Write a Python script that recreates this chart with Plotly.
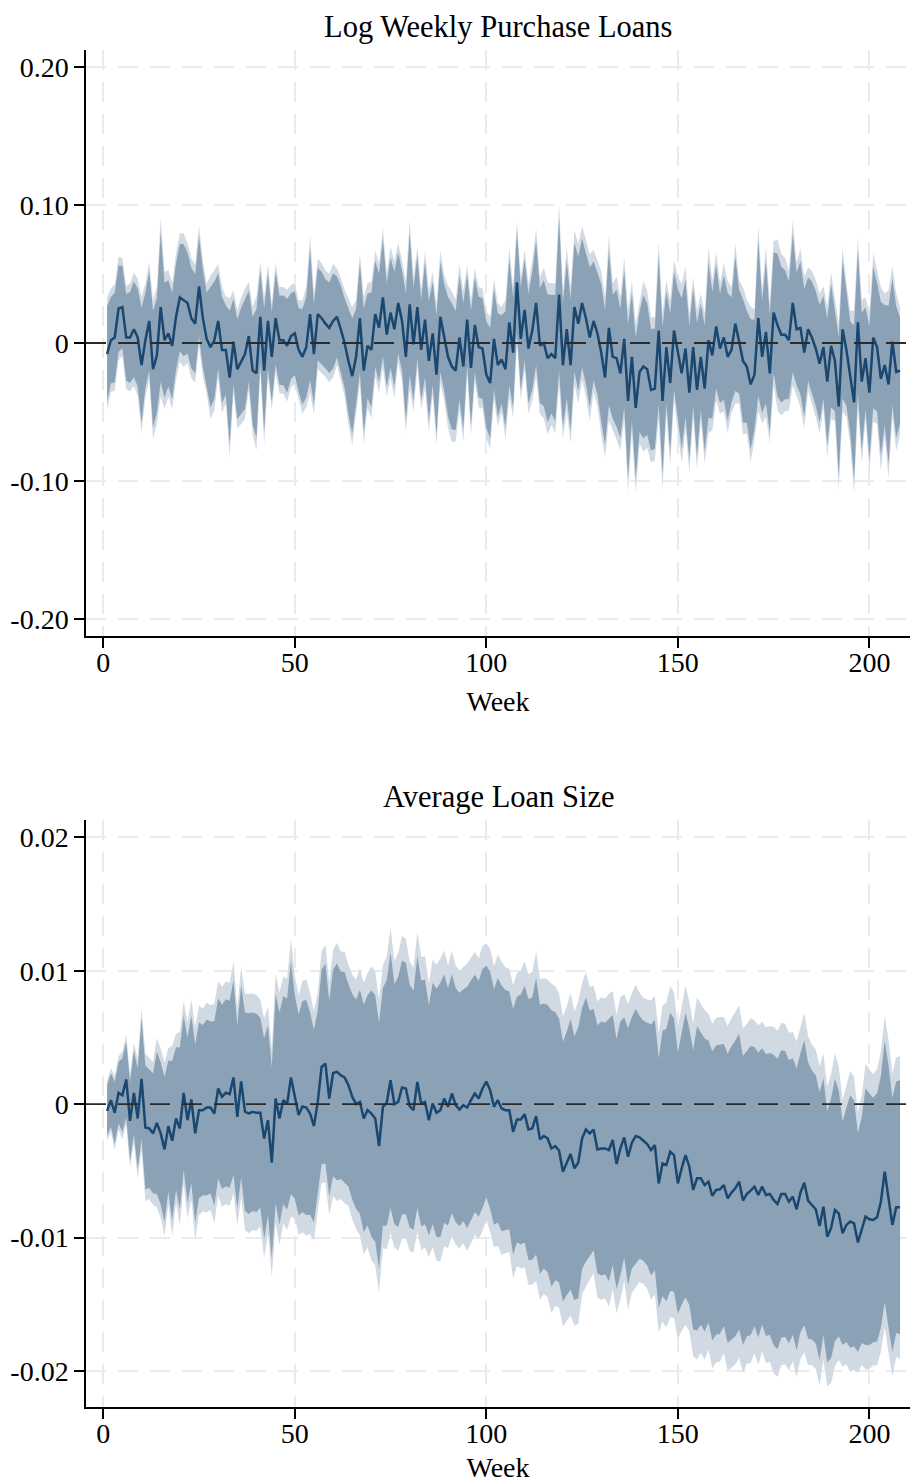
import numpy as np
import plotly.graph_objects as go

# ---------------- data ----------------
weeks = list(range(1, 209))

# Panel 1: Log Weekly Purchase Loans -- point estimates and standard errors
b_top = [
    -0.008, 0.002, 0.004, 0.025, 0.026, 0.004, 0.004, 0.010, 0.004, -0.016,
    0.002, 0.016, -0.019, -0.009, 0.026, 0.002, 0.007, -0.002, 0.019, 0.033,
    0.031, 0.029, 0.018, 0.014, 0.041, 0.018, 0.003, -0.003, 0.002, 0.016,
    -0.005, -0.005, -0.025, 0.001, -0.019, -0.013, -0.008, 0.005, -0.020, -0.022,
    0.019, -0.020, 0.016, -0.010, 0.018, 0.002, 0.002, -0.002, 0.005, 0.007,
    -0.005, -0.010, -0.003, 0.021, -0.008, 0.021, 0.018, 0.014, 0.011, 0.016,
    0.019, 0.010, 0.000, -0.013, -0.024, -0.010, 0.018, -0.020, -0.002, -0.005,
    0.021, 0.011, 0.033, 0.006, 0.022, 0.010, 0.029, 0.016, -0.010, 0.028,
    -0.001, 0.026, -0.005, 0.017, -0.013, 0.007, -0.023, 0.019, 0.004, -0.010,
    -0.017, -0.020, 0.004, -0.017, 0.017, -0.018, 0.013, -0.003, -0.004, -0.023,
    -0.029, 0.003, -0.016, -0.012, -0.019, 0.015, -0.007, 0.044, 0.003, 0.024,
    -0.004, 0.009, 0.029, -0.002, 0.000, -0.011, -0.008, -0.011, 0.035, -0.016,
    0.010, -0.016, 0.026, 0.014, 0.029, 0.018, 0.004, 0.016, 0.007, -0.007,
    -0.025, 0.011, -0.010, -0.011, -0.022, 0.003, -0.042, -0.010, -0.047, -0.021,
    -0.017, -0.019, -0.034, -0.033, 0.009, -0.042, -0.003, -0.029, 0.009, -0.008,
    -0.022, -0.004, -0.036, -0.003, -0.034, -0.010, -0.033, 0.002, -0.009, 0.012,
    -0.004, 0.004, -0.010, -0.005, 0.014, 0.001, -0.013, -0.017, -0.030, -0.023,
    0.018, -0.010, 0.008, -0.022, 0.022, 0.013, 0.006, 0.006, 0.002, 0.029,
    0.010, 0.011, -0.007, 0.010, 0.004, -0.004, -0.015, -0.003, -0.028, -0.002,
    -0.013, -0.046, 0.010, -0.005, -0.025, -0.043, 0.015, -0.028, -0.011, -0.036,
    0.004, -0.003, -0.026, -0.016, -0.030, 0.001, -0.021, -0.020,
]
se_top = [
    0.0210, 0.0191, 0.0197, 0.0191, 0.0181, 0.0191, 0.0200, 0.0210, 0.0216, 0.0253,
    0.0210, 0.0218, 0.0257, 0.0253, 0.0330, 0.0253, 0.0234, 0.0234, 0.0234, 0.0237,
    0.0247, 0.0222, 0.0222, 0.0218, 0.0222, 0.0216, 0.0204, 0.0265, 0.0259, 0.0210,
    0.0234, 0.0197, 0.0294, 0.0188, 0.0220, 0.0234, 0.0241, 0.0201, 0.0237, 0.0284,
    0.0204, 0.0272, 0.0210, 0.0197, 0.0204, 0.0197, 0.0197, 0.0207, 0.0189, 0.0185,
    0.0183, 0.0210, 0.0222, 0.0290, 0.0222, 0.0204, 0.0204, 0.0197, 0.0200, 0.0210,
    0.0179, 0.0191, 0.0197, 0.0234, 0.0255, 0.0210, 0.0241, 0.0272, 0.0231, 0.0253,
    0.0234, 0.0238, 0.0259, 0.0228, 0.0243, 0.0253, 0.0222, 0.0222, 0.0281, 0.0311,
    0.0249, 0.0225, 0.0222, 0.0255, 0.0263, 0.0226, 0.0262, 0.0244, 0.0234, 0.0263,
    0.0278, 0.0262, 0.0272, 0.0278, 0.0201, 0.0251, 0.0210, 0.0222, 0.0222, 0.0234,
    0.0244, 0.0222, 0.0228, 0.0195, 0.0257, 0.0278, 0.0241, 0.0226, 0.0228, 0.0222,
    0.0241, 0.0259, 0.0275, 0.0253, 0.0278, 0.0281, 0.0262, 0.0278, 0.0337, 0.0272,
    0.0302, 0.0290, 0.0284, 0.0296, 0.0284, 0.0290, 0.0309, 0.0262, 0.0269, 0.0302,
    0.0296, 0.0342, 0.0272, 0.0302, 0.0284, 0.0302, 0.0337, 0.0281, 0.0311, 0.0265,
    0.0315, 0.0290, 0.0268, 0.0265, 0.0327, 0.0325, 0.0247, 0.0306, 0.0259, 0.0286,
    0.0331, 0.0302, 0.0294, 0.0259, 0.0296, 0.0234, 0.0278, 0.0343, 0.0278, 0.0275,
    0.0241, 0.0274, 0.0281, 0.0232, 0.0296, 0.0228, 0.0272, 0.0247, 0.0288, 0.0241,
    0.0343, 0.0247, 0.0315, 0.0259, 0.0265, 0.0315, 0.0299, 0.0284, 0.0259, 0.0305,
    0.0247, 0.0294, 0.0281, 0.0228, 0.0247, 0.0253, 0.0259, 0.0225, 0.0278, 0.0272,
    0.0222, 0.0305, 0.0305, 0.0247, 0.0247, 0.0339, 0.0315, 0.0302, 0.0225, 0.0292,
    0.0312, 0.0284, 0.0339, 0.0265, 0.0348, 0.0278, 0.0290, 0.0234,
]

# Panel 2: Average Loan Size -- point estimates and standard errors
b_bot = [
    -0.00050, 0.00030, -0.00065, 0.00085, 0.00067, 0.00185, -0.00125, 0.00085, -0.00107, 0.00190,
    -0.00175, -0.00182, -0.00219, -0.00140, -0.00219, -0.00339, -0.00165, -0.00274, -0.00107, -0.00182,
    0.00085, -0.00120, 0.00035, -0.00219, -0.00045, -0.00045, -0.00025, -0.00025, -0.00070, 0.00117,
    0.00055, 0.00085, 0.00075, 0.00200, -0.00095, 0.00170, -0.00057, -0.00070, -0.00057, -0.00065,
    -0.00065, -0.00257, -0.00120, -0.00439, 0.00042, -0.00107, 0.00030, 0.00000, 0.00200, 0.00055,
    -0.00082, -0.00018, -0.00025, -0.00070, -0.00165, 0.00017, 0.00279, 0.00304, 0.00042, 0.00234,
    0.00242, 0.00217, 0.00200, 0.00142, 0.00055, 0.00000, 0.00017, -0.00107, -0.00045, -0.00070,
    -0.00107, -0.00314, -0.00020, 0.00010, 0.00180, 0.00000, 0.00017, 0.00125, 0.00117, -0.00015,
    -0.00045, 0.00167, 0.00005, 0.00017, -0.00120, 0.00005, -0.00065, -0.00045, 0.00042, -0.00020,
    0.00080, -0.00007, -0.00040, -0.00007, -0.00025, 0.00030, 0.00080, 0.00042, 0.00117, 0.00170,
    0.00105, -0.00020, 0.00030, -0.00032, -0.00045, -0.00045, -0.00207, -0.00115, -0.00115, -0.00075,
    -0.00190, -0.00182, -0.00090, -0.00264, -0.00239, -0.00257, -0.00332, -0.00314, -0.00349, -0.00506,
    -0.00444, -0.00374, -0.00481, -0.00439, -0.00257, -0.00190, -0.00219, -0.00190, -0.00339, -0.00332,
    -0.00332, -0.00344, -0.00269, -0.00449, -0.00332, -0.00249, -0.00394, -0.00289, -0.00239, -0.00249,
    -0.00274, -0.00299, -0.00344, -0.00307, -0.00594, -0.00444, -0.00456, -0.00357, -0.00382, -0.00594,
    -0.00481, -0.00382, -0.00469, -0.00643, -0.00556, -0.00556, -0.00606, -0.00581, -0.00688, -0.00643,
    -0.00638, -0.00606, -0.00706, -0.00663, -0.00631, -0.00581, -0.00723, -0.00673, -0.00648, -0.00618,
    -0.00681, -0.00618, -0.00681, -0.00673, -0.00718, -0.00748, -0.00673, -0.00673, -0.00731, -0.00693,
    -0.00788, -0.00663, -0.00589, -0.00723, -0.00756, -0.00788, -0.00913, -0.00768, -0.00993, -0.00930,
    -0.00793, -0.00818, -0.00968, -0.00905, -0.00880, -0.00893, -0.01037, -0.00943, -0.00843, -0.00863,
    -0.00868, -0.00848, -0.00731, -0.00506, -0.00693, -0.00905, -0.00773, -0.00773,
]
se_bot = [
    0.00115, 0.00121, 0.00142, 0.00140, 0.00168, 0.00172, 0.00178, 0.00191, 0.00229, 0.00274,
    0.00282, 0.00270, 0.00274, 0.00324, 0.00324, 0.00331, 0.00299, 0.00363, 0.00324, 0.00369,
    0.00350, 0.00375, 0.00382, 0.00405, 0.00401, 0.00388, 0.00401, 0.00392, 0.00420, 0.00410,
    0.00420, 0.00426, 0.00426, 0.00443, 0.00417, 0.00439, 0.00452, 0.00458, 0.00452, 0.00452,
    0.00433, 0.00458, 0.00433, 0.00435, 0.00477, 0.00483, 0.00473, 0.00481, 0.00532, 0.00464,
    0.00458, 0.00481, 0.00490, 0.00461, 0.00439, 0.00417, 0.00443, 0.00455, 0.00445, 0.00471,
    0.00494, 0.00473, 0.00481, 0.00461, 0.00468, 0.00477, 0.00511, 0.00519, 0.00524, 0.00562,
    0.00562, 0.00560, 0.00541, 0.00560, 0.00583, 0.00547, 0.00570, 0.00579, 0.00573, 0.00553,
    0.00545, 0.00573, 0.00560, 0.00557, 0.00524, 0.00550, 0.00566, 0.00579, 0.00566, 0.00541,
    0.00545, 0.00534, 0.00532, 0.00528, 0.00550, 0.00545, 0.00541, 0.00537, 0.00545, 0.00528,
    0.00541, 0.00537, 0.00557, 0.00560, 0.00547, 0.00541, 0.00560, 0.00560, 0.00570, 0.00585,
    0.00595, 0.00598, 0.00630, 0.00613, 0.00604, 0.00608, 0.00630, 0.00611, 0.00601, 0.00592,
    0.00601, 0.00617, 0.00601, 0.00617, 0.00595, 0.00601, 0.00560, 0.00550, 0.00566, 0.00579,
    0.00573, 0.00598, 0.00570, 0.00570, 0.00579, 0.00547, 0.00585, 0.00573, 0.00579, 0.00553,
    0.00547, 0.00553, 0.00573, 0.00570, 0.00570, 0.00604, 0.00621, 0.00634, 0.00623, 0.00595,
    0.00621, 0.00649, 0.00630, 0.00636, 0.00693, 0.00668, 0.00668, 0.00642, 0.00659, 0.00659,
    0.00659, 0.00642, 0.00659, 0.00668, 0.00674, 0.00674, 0.00659, 0.00649, 0.00659, 0.00636,
    0.00649, 0.00630, 0.00642, 0.00642, 0.00662, 0.00662, 0.00655, 0.00651, 0.00646, 0.00630,
    0.00642, 0.00636, 0.00649, 0.00630, 0.00613, 0.00611, 0.00611, 0.00585, 0.00573, 0.00592,
    0.00598, 0.00560, 0.00509, 0.00534, 0.00575, 0.00560, 0.00499, 0.00515, 0.00585, 0.00573,
    0.00557, 0.00566, 0.00573, 0.00595, 0.00598, 0.00579, 0.00573, 0.00579,
]

titles = ["Log Weekly Purchase Loans", "Average Loan Size"]
x_ticks = [0, 50, 100, 150, 200]
y_ticks_top = [-0.20, -0.10, 0.0, 0.10, 0.20]
y_text_top = ["-0.20", "-0.10", "0", "0.10", "0.20"]
y_ticks_bot = [-0.02, -0.01, 0.0, 0.01, 0.02]
y_text_bot = ["-0.02", "-0.01", "0", "0.01", "0.02"]

Z90, Z95 = 1.645, 1.96

# ---------------- styling ----------------
NAVY = "#1a476f"
DARK = "#8ba2b6"
LIGHT = "#d1dae3"
GRID = "#ebebeb"
FONT = "Liberation Serif"
TICK_SIZE = 28
TITLE_SIZE = 30.5

fig = go.Figure()


def add_panel(b, se, xa, ya):
    x = np.array(weeks)
    b = np.array(b)
    se = np.array(se)
    xx = np.concatenate([x, x[::-1]])
    for z, col in [(Z95, LIGHT), (Z90, DARK)]:
        up = b + z * se
        lo = b - z * se
        fig.add_trace(go.Scatter(
            x=xx, y=np.concatenate([up, lo[::-1]]), fill="toself",
            fillcolor=col, line=dict(width=0, color=col), mode="lines",
            hoverinfo="skip", showlegend=False, xaxis=xa, yaxis=ya))
    fig.add_trace(go.Scatter(
        x=x, y=b, mode="lines", line=dict(color=NAVY, width=2.5),
        showlegend=False, xaxis=xa, yaxis=ya))


add_panel(b_top, se_top, "x", "y")
add_panel(b_bot, se_bot, "x2", "y2")

H_PLOT = 1483 - 50 - 76
top_dom = [1 - 586 / H_PLOT, 1]
bot_dom = [0, 1 - 770 / H_PLOT]

axis_common = dict(
    showline=True, linecolor="black", linewidth=1.5, mirror=False,
    ticks="outside", ticklen=10, tickwidth=1.5, tickcolor="black",
    tickfont=dict(family=FONT, size=TICK_SIZE, color="black"),
    showgrid=True, gridcolor=GRID, gridwidth=2, griddash="20px,12px",
    zeroline=False, automargin=False,
)

xr = [-4.5, 210.6]
fig.update_layout(
    width=912, height=1483,
    margin=dict(l=86, r=2, t=50, b=76),
    paper_bgcolor="white", plot_bgcolor="white",
    font=dict(family=FONT, color="black"),
    xaxis=dict(axis_common, domain=[0, 1], anchor="y", range=xr, tickvals=x_ticks,
               ticklabelstandoff=-9,
               title=dict(text="Week", font=dict(family=FONT, size=TICK_SIZE), standoff=14)),
    yaxis=dict(axis_common, domain=top_dom, anchor="x", range=[-0.2123, 0.2123],
               tickvals=y_ticks_top, ticktext=y_text_top, ticklabelstandoff=0),
    xaxis2=dict(axis_common, domain=[0, 1], anchor="y2", range=xr, tickvals=x_ticks,
                ticklabelstandoff=-9,
                title=dict(text="Week", font=dict(family=FONT, size=TICK_SIZE), standoff=14)),
    yaxis2=dict(axis_common, domain=bot_dom, anchor="x2", range=[-0.0227, 0.0213],
                tickvals=y_ticks_bot, ticktext=y_text_bot, ticklabelstandoff=0),
)

# dashed reference line at zero
for xa, ya in [("x", "y"), ("x2", "y2")]:
    fig.add_shape(type="line", xref=f"{xa} domain", yref=ya, x0=0, x1=1, y0=0, y1=0,
                  line=dict(color="#2b2b2b", width=1.8, dash="20px,12px"), layer="above")

# panel titles
fig.add_annotation(text=titles[0], xref="paper", yref="paper", x=0.5, y=top_dom[1] + 23 / H_PLOT,
                   showarrow=False, font=dict(family=FONT, size=TITLE_SIZE, color="black"),
                   yanchor="middle")
fig.add_annotation(text=titles[1], xref="paper", yref="paper", x=0.5, y=bot_dom[1] + 23 / H_PLOT,
                   showarrow=False, font=dict(family=FONT, size=TITLE_SIZE, color="black"),
                   yanchor="middle")

# remove the default page margin so the figure sits at the window's top-left corner
fig.write_html(
    "out.html",
    config={"displayModeBar": False},
    post_script="document.body.style.margin='0';document.body.style.overflow='hidden';",
)
